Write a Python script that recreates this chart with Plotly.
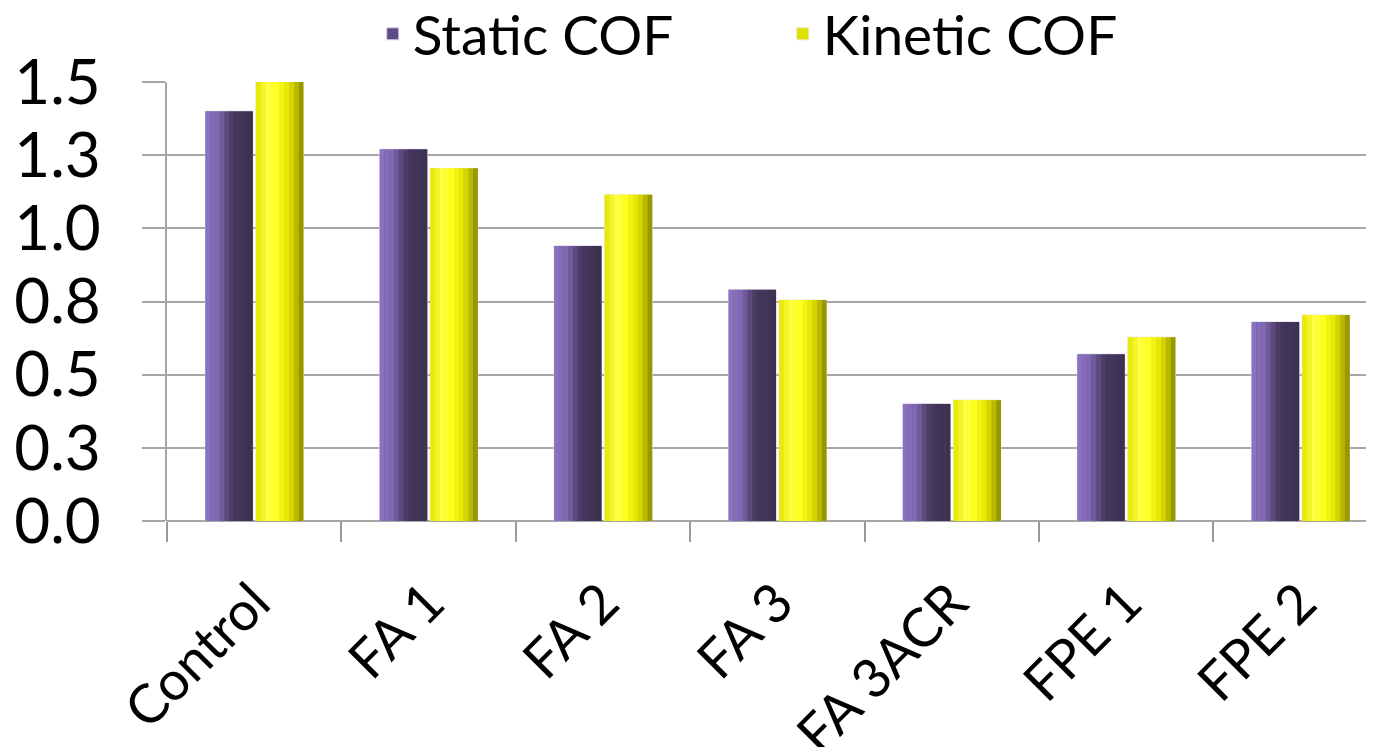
import plotly.graph_objects as go

categories = ["Control", "FA 1", "FA 2", "FA 3", "FA 3ACR", "FPE 1", "FPE 2"]
static_cof = [1.40, 1.27, 0.94, 0.79, 0.40, 0.57, 0.68]
kinetic_cof = [1.50, 1.205, 1.115, 0.755, 0.413, 0.628, 0.704]
ytick_vals = [0, 0.25, 0.5, 0.75, 1.0, 1.25, 1.5]
ytick_text = ["0.0", "0.3", "0.5", "0.8", "1.0", "1.3", "1.5"]

FONT = "Lato"
xpos = list(range(len(categories)))
BAR_W = 0.272
STATIC_OFF = -0.280
KINETIC_OFF = 0.010

purple_stops = [(0.0, (0x8c, 0x74, 0xc2)), (0.28, (0x7e, 0x66, 0xb0)), (0.45, (0x5c, 0x4a, 0x7c)),
                (0.6, (0x44, 0x37, 0x5b)), (1.0, (0x3b, 0x30, 0x4f))]
yellow_stops = [(0.0, (0xe4, 0xe4, 0x00)), (0.25, (0xff, 0xff, 0x45)), (0.45, (0xff, 0xff, 0x20)),
                (0.7, (0xe2, 0xe2, 0x00)), (0.85, (0xb8, 0xb8, 0x00)), (1.0, (0x86, 0x86, 0x00))]


def sample(stops, t):
    for (t0, c0), (t1, c1) in zip(stops[:-1], stops[1:]):
        if t0 <= t <= t1:
            f = (t - t0) / (t1 - t0) if t1 > t0 else 0
            return "rgb(%d,%d,%d)" % tuple(round(a + (b - a) * f) for a, b in zip(c0, c1))
    return "rgb(%d,%d,%d)" % stops[-1][1]


fig = go.Figure()

N = 10


def add_series(name, values, off, stops, legend_color, edge):
    fig.add_trace(go.Bar(x=xpos, y=values, name=name, offset=off, width=BAR_W,
                         marker=dict(color=legend_color, line=dict(color=edge, width=1)),
                         showlegend=True))
    sw = BAR_W / N
    for k in range(N):
        t = (k + 0.5) / N
        fig.add_trace(go.Bar(x=xpos, y=values, offset=off + k * sw, width=sw * 1.02,
                             marker=dict(color=sample(stops, t), line=dict(width=0)),
                             showlegend=False, hoverinfo="skip"))


add_series("Static COF", static_cof, STATIC_OFF, purple_stops, "#5e4a84", "#d8d0e8")
add_series("Kinetic COF", kinetic_cof, KINETIC_OFF, yellow_stops, "#e0e000", "#e8e8c0")

fig.update_layout(
    width=1374, height=747,
    barmode="overlay",
    paper_bgcolor="white", plot_bgcolor="white",
    margin=dict(l=159, r=10, t=74, b=234, autoexpand=False),
    font=dict(family=FONT, color="black"),
    legend=dict(orientation="h", x=0.511, xanchor="center", y=1.206, yanchor="top",
                yref="paper", font=dict(size=55, family=FONT), entrywidth=365,
                bgcolor="rgba(0,0,0,0)"),
    showlegend=True,
)

fig.update_xaxes(
    range=[-0.5, 6.41], tickvals=xpos, ticktext=categories, tickangle=-45,
    ticks="", showgrid=False, zeroline=False, showline=False, automargin=False,
    tickfont=dict(size=54, family=FONT), ticklabelstandoff=38,
    minor=dict(tickvals=[i - 0.5 for i in range(len(categories) + 1)], ticks="outside",
               ticklen=20, tickcolor="#9a9a9a", tickwidth=1.5, showgrid=False),
)
fig.update_yaxes(
    range=[0, 1.5], tickvals=ytick_vals, ticktext=ytick_text, automargin=False,
    showgrid=True, gridcolor="#a6a6a6", gridwidth=1.5,
    zeroline=True, zerolinecolor="#a6a6a6", zerolinewidth=1.5,
    showline=True, linecolor="#a6a6a6", linewidth=1.5,
    ticks="outside", ticklen=23, tickcolor="#a6a6a6", tickwidth=1.5,
    tickfont=dict(size=62, family=FONT), ticklabelstandoff=29,
)

fig.write_html("out.html")
